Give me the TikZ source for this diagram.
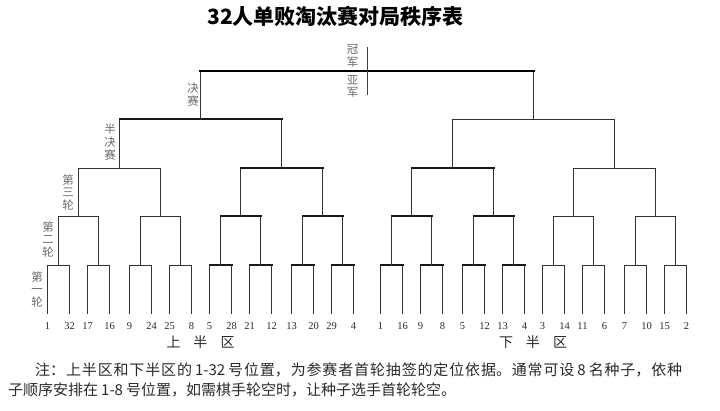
\documentclass[tikz,border=0pt]{standalone}
\usepackage{fontspec}
\setmainfont{Liberation Serif}
\newfontfamily\cjk{Noto Sans CJK SC}
\usetikzlibrary{calc}
\XeTeXlinebreaklocale "zh"
\XeTeXlinebreakskip=0pt plus 3pt
\definecolor{linec}{HTML}{333333}
\definecolor{labc}{HTML}{6A6A6A}
\definecolor{txtc}{HTML}{2A2A2A}
\begin{document}
\begin{tikzpicture}[x=1pt,y=-1pt,
  ln/.style={draw=linec,line width=1.7pt,line cap=rect},
  lnb/.style={draw=black!90,line width=2pt,line cap=rect},
  lnf/.style={draw=black,line width=2.6pt,line cap=rect},
  num/.style={inner sep=0pt,text=txtc,font=\fontsize{10.5}{10.5}\selectfont},
  vlab/.style={inner sep=0pt,align=center,text=labc,font=\cjk\fontsize{11.5}{12.8}\selectfont},
  half/.style={inner sep=0pt,text=txtc,font=\cjk\fontsize{14}{14}\selectfont},
  note/.style={inner sep=0pt,anchor=west,text=txtc,font=\cjk\fontsize{15}{15}\selectfont}]
\useasboundingbox (0,0) rectangle (720,411);
% title
\node[inner sep=0pt,text=black,font=\cjk\bfseries\fontsize{21}{21}\selectfont] (title) at (335.5,16) {32人单败淘汰赛对局秩序表};
% leaves and first-round junctions
\foreach \p/\o in {0/0,1/40,2/82,3/122,4/162,5/202,6/244,7/284,8/0,9/40,10/82,11/122,12/162,13/202,14/244,15/284}{
  \pgfmathsetmacro\xa{ifthenelse(\p<8, 47.5, 380.5)+\o}
  \pgfmathsetmacro\xb{\xa+22}
  \pgfmathsetmacro\xm{\xa+11}
  \pgfmathtruncatemacro\ka{2*\p+1}
  \pgfmathtruncatemacro\kb{2*\p+2}
  \pgfmathtruncatemacro\m{\p+1}
  \coordinate (l\ka) at (\xa,313);
  \coordinate (l\kb) at (\xb,313);
  \coordinate (ra\m) at (\xm,265.5);
}
\foreach \j in {1,...,8}{
  \pgfmathtruncatemacro\a{2*\j-1}
  \pgfmathtruncatemacro\b{2*\j}
  \coordinate (rb\j) at ($(ra\a)!0.5!(ra\b)+(0,-49)$);
}
\foreach \j in {1,...,4}{
  \pgfmathtruncatemacro\a{2*\j-1}
  \pgfmathtruncatemacro\b{2*\j}
  \coordinate (rc\j) at ($(rb\a)!0.5!(rb\b)+(0,-48)$);
}
\foreach \j in {1,2}{
  \pgfmathtruncatemacro\a{2*\j-1}
  \pgfmathtruncatemacro\b{2*\j}
  \coordinate (sf\j) at ($(rc\a)!0.5!(rc\b)+(0,-49)$);
}
\coordinate (fin) at ($(sf1)!0.5!(sf2)+(0,-48.5)$);
% first round
\foreach \m/\s in {1/ln,2/ln,3/ln,4/ln,5/lnb,6/lnb,7/lnb,8/lnb,9/lnb,10/lnb,11/lnb,12/lnb,13/ln,14/ln,15/ln,16/ln}{
  \pgfmathtruncatemacro\ka{2*\m-1}
  \pgfmathtruncatemacro\kb{2*\m}
  \draw[ln] (l\ka) |- (ra\m) -| (l\kb);
  \draw[\s] ($(ra\m)+(-11,0)$) -- ($(ra\m)+(11,0)$);
}
% second round
\foreach \j/\s in {1/ln,2/ln,3/lnb,4/lnb,5/lnb,6/lnb,7/ln,8/ln}{
  \pgfmathtruncatemacro\a{2*\j-1}
  \pgfmathtruncatemacro\b{2*\j}
  \draw[ln] (ra\a) |- (rb\j) -| (ra\b);
  \draw[\s] (ra\a |- rb\j) -- (ra\b |- rb\j);
}
% third round
\foreach \j/\s in {1/ln,2/lnb,3/lnb,4/ln}{
  \pgfmathtruncatemacro\a{2*\j-1}
  \pgfmathtruncatemacro\b{2*\j}
  \draw[ln] (rb\a) |- (rc\j) -| (rb\b);
  \draw[\s] (rb\a |- rc\j) -- (rb\b |- rc\j);
}
% semifinals
\foreach \j/\s in {1/lnb,2/ln}{
  \pgfmathtruncatemacro\a{2*\j-1}
  \pgfmathtruncatemacro\b{2*\j}
  \draw[ln] (rc\a) |- (sf\j) -| (rc\b);
  \draw[\s] (rc\a |- sf\j) -- (rc\b |- sf\j);
}
% final
\draw[ln] (sf1) |- (fin) -| (sf2);
\draw[lnf] (sf1 |- fin) -- (sf2 |- fin);
% champion line
\coordinate (ctop) at (367.5,47);
\coordinate (cbot) at (367.5,95);
\draw[draw=black!75,line width=1.3pt] (ctop) -- (cbot);
\node[vlab] (champ) at (352.7,56) {冠\\军};
\node[vlab] (runner) at (352.7,86.5) {亚\\军};
% round labels
\node[vlab] (labF) at (193,94.5) {决\\赛};
\node[vlab] (labSF) at (110,142) {半\\决\\赛};
\node[vlab] (lab3) at (68,192.5) {第\\三\\轮};
\node[vlab] (lab2) at (48,239.5) {第\\二\\轮};
\node[vlab] (lab1) at (37,289.5) {第\\一\\轮};
% numbers
\foreach \k/\n in {1/1,2/32,3/17,4/16,5/9,6/24,7/25,8/8,9/5,10/28,11/21,12/12,13/13,14/20,15/29,16/4,
  17/1,18/16,19/9,20/8,21/5,22/12,23/13,24/4,25/3,26/14,27/11,28/6,29/7,30/10,31/15,32/2}{
  \node[num] (n\k) at ($(l\k)+(0,13.5)$) {\n};
}
% halves
\node[half] (upper) at (200.5,342) {上\hspace{13pt}半\hspace{13pt}区};
\node[half] (lower) at (533,342) {下\hspace{13pt}半\hspace{13pt}区};
% note
\node[note,text width=647pt,align=justify] (note1) at (35,370) {\parfillskip=0pt\relax\noindent 注：上半区和下半区的\kern3pt 1-32\kern3pt 号位置，为参赛者首轮抽签的定位依据。通常可设\kern3pt 8\kern3pt 名种子，依种\par};
\node[note] (note2) at (8,389.5) {子顺序安排在\kern3pt 1-8\kern3pt 号位置，如需棋手轮空时，让种子选手首轮轮空。};
\end{tikzpicture}
\end{document}
